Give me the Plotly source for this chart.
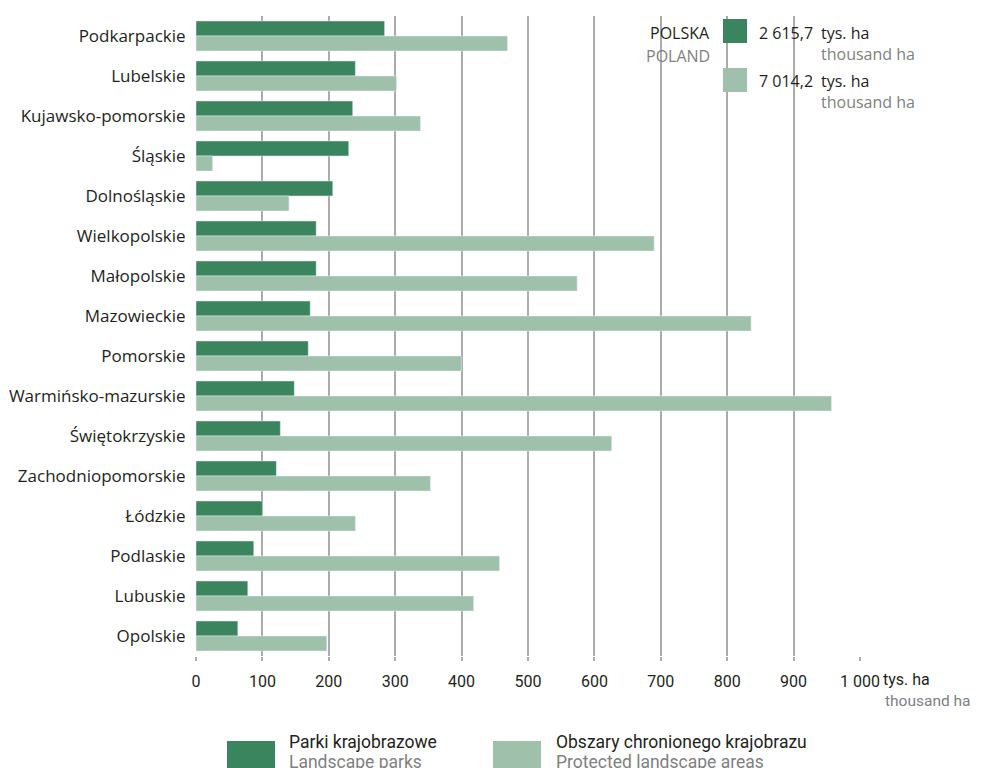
import plotly.graph_objects as go

regions = ["Podkarpackie", "Lubelskie", "Kujawsko-pomorskie", "Śląskie", "Dolnośląskie",
           "Wielkopolskie", "Małopolskie", "Mazowieckie", "Pomorskie", "Warmińsko-mazurskie",
           "Świętokrzyskie", "Zachodniopomorskie", "Łódzkie", "Podlaskie", "Lubuskie", "Opolskie"]
landscape_parks = [284, 240, 236, 230, 206, 181, 181, 172, 169, 148, 127, 121, 100, 87, 78, 63]
protected_areas = [469, 302, 338, 25, 140, 690, 574, 836, 400, 957, 626, 353, 240, 457, 418, 197]
tick_vals = [0, 100, 200, 300, 400, 500, 600, 700, 800, 900, 1000]
tick_text = ["0", "100", "200", "300", "400", "500", "600", "700", "800", "900", "1 000"]

DARK = "#3a845e"
LIGHT = "#9fc1ac"
TXT = "#231f20"
GREY = "#7f7f7f"
GRID = "#ababab"
MAIN_FONT = "Open Sans, Noto Sans, sans-serif"
NARROW_FONT = "Roboto, sans-serif"

# page body has an 8px margin; work in page pixel coordinates and convert
OFF = 8
W, H = 981 - OFF, 768 - OFF
PL, PR, PT, PB = 196, 860, 16, 656  # plot area in page pixels
L, T = PL - OFF, PT - OFF
R, B = W - (PR - OFF), H - (PB - OFF)

def px(x):
    return (x - PL) / (PR - PL)

def py(y):
    return 1 - (y - PT) / (PB - PT)

fig = go.Figure()
fig.add_trace(go.Bar(y=regions, x=landscape_parks, orientation="h", marker_color=DARK,
                     name="Parki krajobrazowe", showlegend=False))
fig.add_trace(go.Bar(y=regions, x=protected_areas, orientation="h", marker_color=LIGHT,
                     name="Obszary chronionego krajobrazu", showlegend=False))

fig.update_layout(
    width=W, height=H,
    margin=dict(l=L, r=R, t=T, b=B, autoexpand=False),
    plot_bgcolor="white", paper_bgcolor="white",
    barmode="group", bargap=0.25, bargroupgap=0,
    font=dict(family=MAIN_FONT, color=TXT),
)
fig.update_xaxes(range=[0, 1000], tickvals=tick_vals, ticktext=tick_text,
                 showgrid=True, gridcolor=GRID, gridwidth=1.5,
                 zeroline=False, showline=False,
                 ticks="outside", ticklen=4, tickcolor=GRID, tickwidth=1.5,
                 ticklabelstandoff=7,
                 tickfont=dict(family=NARROW_FONT, size=16, color=TXT))
fig.update_yaxes(autorange="reversed", showgrid=False, zeroline=False, showline=False,
                 ticks="outside", ticklen=6, tickcolor="rgba(0,0,0,0)",
                 tickfont=dict(family=MAIN_FONT, size=17, color=TXT))

ann = []
def text(x, y, s, color=TXT, anchor="left", size=16, family=MAIN_FONT):
    ann.append(dict(x=px(x), y=py(y), xref="paper", yref="paper", text=s, showarrow=False,
                    xanchor=anchor, yanchor="middle", font=dict(size=size, color=color, family=family)))

# axis unit
text(881, 679, "tys. ha", size=16, family=NARROW_FONT)
text(973, 701, "thousand ha", color=GREY, anchor="right", size=15.5, family=NARROW_FONT)

# top-right totals
text(712, 33, "POLSKA", anchor="right")
text(712, 56, "POLAND", color=GREY, anchor="right")
text(757, 33, "2 615,7")
text(819, 33, "tys. ha")
text(819, 54, "thousand ha", color=GREY)
text(757, 81, "7 014,2")
text(819, 81, "tys. ha")
text(819, 102, "thousand ha", color=GREY)

# bottom legend
text(287, 742, "Parki krajobrazowe", size=17.5, family=NARROW_FONT)
text(287, 762, "Landscape parks", color=GREY, size=17.5, family=NARROW_FONT)
text(554, 742, "Obszary chronionego krajobrazu", size=17.5, family=NARROW_FONT)
text(554, 762, "Protected landscape areas", color=GREY, size=17.5, family=NARROW_FONT)
fig.update_layout(annotations=ann)

shapes = []
def square(x0, y0, x1, y1, color):
    shapes.append(dict(type="rect", xref="paper", yref="paper", x0=px(x0), x1=px(x1),
                       y0=py(y1), y1=py(y0), fillcolor=color, line=dict(width=0), layer="above"))
square(723, 19, 747, 43, DARK)
square(723, 68, 747, 92, LIGHT)
square(227, 741, 275, 770, DARK)
square(493, 741, 541, 770, LIGHT)
fig.update_layout(shapes=shapes)

fig.write_html("out.html")
